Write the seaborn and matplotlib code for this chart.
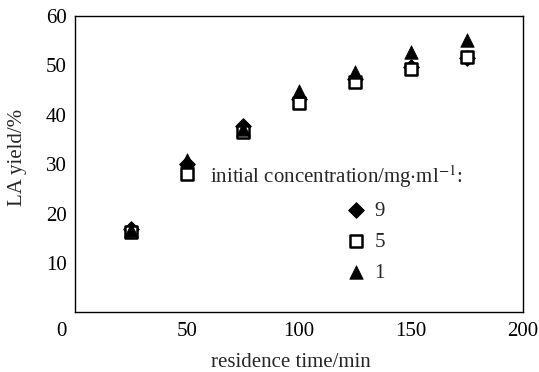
import matplotlib
matplotlib.use("Agg")
import matplotlib.pyplot as plt
from matplotlib.transforms import ScaledTranslation
import pandas as pd
import seaborn as sns

# residence time (min) and LA yield (%) for three initial concentrations
residence_time = [25, 50, 75, 100, 125, 150, 175]
yield_conc9 = [16.8, 30.0, 37.8, 43.2, 47.3, 49.6, 51.5]
yield_conc5 = [16.2, 28.1, 36.5, 42.3, 46.7, 49.2, 51.6]
yield_conc1 = [16.6, 30.8, 37.2, 44.8, 48.7, 52.7, 55.2]
series_labels = ["9", "5", "1"]

x_ticks = [0, 50, 100, 150, 200]
y_ticks = [10, 20, 30, 40, 50, 60]

sns.set_style("white")
plt.rcParams["font.family"] = ["Liberation Serif", "DejaVu Serif"]
plt.rcParams["mathtext.fontset"] = "stix"

fig, ax = plt.subplots(figsize=(5.39, 3.72), dpi=100)
fig.subplots_adjust(left=0.1397, right=0.9697, top=0.957, bottom=0.1605)

df = pd.DataFrame({"t": residence_time, "c9": yield_conc9,
                   "c5": yield_conc5, "c1": yield_conc1})

sns.scatterplot(data=df, x="t", y="c9", marker="D", s=62, color="black",
                edgecolor="black", linewidth=0.8, label=series_labels[0],
                ax=ax, zorder=3)
sns.scatterplot(data=df, x="t", y="c5", marker="s", s=66, facecolor="white",
                edgecolor="black", linewidth=1.8, label=series_labels[1],
                ax=ax, zorder=4)
sns.scatterplot(data=df, x="t", y="c1", marker="^", s=95, color="black",
                edgecolor="black", linewidth=0.5, label=series_labels[2],
                ax=ax, zorder=5)

ax.set_xlim(0, 200)
ax.set_ylim(0, 60)
ax.set_xticks(x_ticks)
ax.set_xticklabels([str(v) for v in x_ticks])
ax.set_yticks(y_ticks)
ax.set_yticklabels([str(v) for v in y_ticks])

ax.tick_params(axis="both", direction="in", length=4, width=0.9,
               labelsize=15, colors="black")
ax.tick_params(axis="x", pad=7)
ax.tick_params(axis="y", pad=6)

# shift the origin label to the lower-left corner
first = ax.get_xticklabels()[0]
first.set_transform(first.get_transform() +
                    ScaledTranslation(-14 / 100, 0, fig.dpi_scale_trans))

for sp in ax.spines.values():
    sp.set_visible(True)
    sp.set_color("black")
    sp.set_linewidth(1.0)

ax.set_xlabel("residence time/min", fontsize=15)
ax.set_ylabel("LA yield/%", fontsize=15)
ax.xaxis.set_label_coords(0.482, -0.137)
ax.yaxis.set_label_coords(-0.108, 0.524)

ax.text(0.30, 0.458, r"initial concentration/mg$\cdot$ml$^{-1}$:",
        transform=ax.transAxes, fontsize=15, ha="left", va="center")

leg = ax.legend(loc="upper left", bbox_to_anchor=(0.576, 0.41), frameon=False,
                fontsize=15, handletextpad=0.3, labelspacing=0.55,
                borderpad=0, handlelength=1.2, markerscale=1.0)

fig.savefig("out.png", dpi=100)
